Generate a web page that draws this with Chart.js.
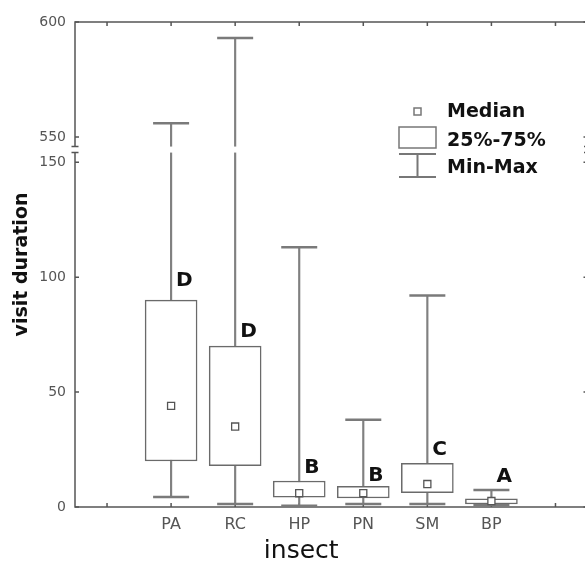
<!DOCTYPE html>
<html lang="en">
<head>
<meta charset="UTF-8">
<title>Visit duration by insect</title>
<script src="https://cdn.jsdelivr.net/npm/chart.js"></script>
<style>
    html, body { margin: 0; padding: 0; background: #fff; overflow: hidden; }
    canvas { display: block; }
</style>
</head>
<body>
<canvas id="boxChart" width="608" height="562"></canvas>
<script>
    // x slots: the two outer ones are empty in the original figure
    const categories = ['', 'PA', 'RC', 'HP', 'PN', 'SM', 'BP', ''];
    const insects = ['PA', 'RC', 'HP', 'PN', 'SM', 'BP'];

    // visit duration summaries
    const minVals = [4.3, 1.3, 0.5, 1.3, 1.3, 0.9];
    const q1Vals = [20, 18, 4.3, 3.9, 6.2, 1.3];
    const medianVals = [44, 35, 6, 6, 10, 2.6];
    const q3Vals = [90, 70, 11.3, 9, 19, 3.5];
    const maxVals = [556, 593, 113, 38, 92, 7.4];

    // significance letters and the value where their baseline sits
    const groupLetters = ['D', 'D', 'B', 'B', 'C', 'A'];
    const letterVals = [96, 74, 15, 11.3, 22.6, 11];

    const yTickLabels = [0, 50, 100, 150, 550, 600];

    // broken axis: everything between 155 and 545 is squeezed into one unit
    const BREAK_LO = 155, BREAK_HI = 545;
    function squash(v) {
        if (v <= BREAK_LO) return v;
        if (v >= BREAK_HI) return v - (BREAK_HI - BREAK_LO) + 1;
        return BREAK_LO + (v - BREAK_LO) / (BREAK_HI - BREAK_LO);
    }

    const FONT = "'DejaVu Sans', sans-serif";
    const AXIS = '#555';
    Chart.defaults.font.family = FONT;

    const pts = vals => vals.map((v, i) => ({ x: insects[i], y: squash(v) }));
    const spans = (lo, hi) => lo.map((v, i) => ({ x: insects[i], y: [squash(v), squash(hi[i])] }));

    // frame, inward ticks, axis break, letters, legend and x title
    const decorations = {
        id: 'decorations',
        beforeDatasetsDraw(chart) {
            const { ctx, chartArea: a, scales: { x, y } } = chart;
            ctx.save();
            ctx.strokeStyle = AXIS;
            ctx.lineWidth = 1.5;
            ctx.strokeRect(a.left, a.top, a.right - a.left, a.bottom - a.top);
            ctx.beginPath();
            categories.forEach((c, i) => {
                const px = x.getPixelForValue(i);
                ctx.moveTo(px, a.top); ctx.lineTo(px, a.top + 4);
                ctx.moveTo(px, a.bottom); ctx.lineTo(px, a.bottom - 4);
            });
            yTickLabels.forEach(v => {
                const py = y.getPixelForValue(squash(v));
                ctx.moveTo(a.left, py); ctx.lineTo(a.left + 4, py);
                ctx.moveTo(a.right, py); ctx.lineTo(a.right - 4, py);
            });
            ctx.stroke();
            ctx.restore();
        },
        afterDatasetsDraw(chart) {
            const { ctx, chartArea: a, scales: { x, y } } = chart;
            ctx.save();

            // gap of the broken axis
            const mid = y.getPixelForValue(BREAK_LO + 0.5);
            ctx.fillStyle = '#fff';
            ctx.fillRect(a.left - 4, mid - 3, a.right - a.left + 8, 6);
            ctx.strokeStyle = AXIS;
            ctx.lineWidth = 1.5;
            ctx.beginPath();
            [a.left, a.right].forEach(ax => {
                ctx.moveTo(ax - 3.5, mid - 3); ctx.lineTo(ax + 3.5, mid - 3);
                ctx.moveTo(ax - 3.5, mid + 3); ctx.lineTo(ax + 3.5, mid + 3);
            });
            ctx.stroke();

            // group letters
            ctx.fillStyle = '#111';
            ctx.font = `bold 20px ${FONT}`;
            ctx.textAlign = 'left';
            ctx.textBaseline = 'alphabetic';
            insects.forEach((name, i) => {
                const px = x.getPixelForValue(categories.indexOf(name));
                ctx.fillText(groupLetters[i], px + 5, y.getPixelForValue(squash(letterVals[i])));
            });

            // legend
            const lx = a.left + 324, ly = a.top;
            ctx.strokeStyle = '#777';
            ctx.lineWidth = 1.5;
            ctx.strokeRect(lx + 15, ly + 86, 7, 7);
            ctx.strokeRect(lx, ly + 105, 37, 21);
            ctx.lineWidth = 2;
            ctx.beginPath();
            ctx.moveTo(lx, ly + 132); ctx.lineTo(lx + 37, ly + 132);
            ctx.moveTo(lx + 18.5, ly + 132); ctx.lineTo(lx + 18.5, ly + 155);
            ctx.moveTo(lx, ly + 155); ctx.lineTo(lx + 37, ly + 155);
            ctx.stroke();
            ctx.font = `bold 19px ${FONT}`;
            ctx.fillText('Median', lx + 48, ly + 95);
            ctx.fillText('25%-75%', lx + 48, ly + 124);
            ctx.fillText('Min-Max', lx + 48, ly + 151);

            // x axis title
            ctx.font = `25px ${FONT}`;
            ctx.textAlign = 'center';
            const cx = (x.getPixelForValue(0) + x.getPixelForValue(6)) / 2 + 2;
            ctx.fillText('insect', cx, 558);
            ctx.restore();
        }
    };

    new Chart(document.getElementById('boxChart'), {
        type: 'bar',
        data: {
            labels: categories,
            datasets: [
                {
                    type: 'line',
                    label: 'Median',
                    data: pts(medianVals),
                    showLine: false,
                    pointStyle: 'rect',
                    pointRadius: 5,
                    pointHoverRadius: 5,
                    pointBackgroundColor: '#fff',
                    pointBorderColor: '#555',
                    pointBorderWidth: 1.3,
                    order: 0
                },
                {
                    label: '25%-75%',
                    data: spans(q1Vals, q3Vals),
                    backgroundColor: '#fff',
                    borderColor: '#6a6a6a',
                    borderWidth: 1.5,
                    borderSkipped: false,
                    barThickness: 52,
                    grouped: false,
                    order: 1
                },
                {
                    type: 'line',
                    label: 'Max',
                    data: pts(maxVals),
                    showLine: false,
                    pointStyle: 'line',
                    pointRadius: 18,
                    pointHoverRadius: 18,
                    pointBorderColor: '#7a7a7a',
                    pointBorderWidth: 2.5,
                    order: 2
                },
                {
                    type: 'line',
                    label: 'Min',
                    data: pts(minVals),
                    showLine: false,
                    pointStyle: 'line',
                    pointRadius: 18,
                    pointHoverRadius: 18,
                    pointBorderColor: '#7a7a7a',
                    pointBorderWidth: 2.5,
                    order: 2
                },
                {
                    label: 'Min-Max',
                    data: spans(minVals, maxVals),
                    backgroundColor: '#808080',
                    borderWidth: 0,
                    barThickness: 1.5,
                    grouped: false,
                    order: 3
                }
            ]
        },
        options: {
            responsive: false,
            animation: false,
            layout: { padding: { top: 22, right: 5, left: 0, bottom: 0 } },
            plugins: {
                legend: { display: false },
                tooltip: { enabled: false }
            },
            scales: {
                x: {
                    offset: true,
                    grid: { display: false, drawTicks: false },
                    border: { display: false },
                    ticks: { color: '#555', font: { size: 16 }, padding: 8, autoSkip: false, maxRotation: 0 },
                    afterFit(s) { s.height = 55; }
                },
                y: {
                    min: 0,
                    max: squash(600),
                    grid: { display: false, drawTicks: false },
                    border: { display: false },
                    afterBuildTicks(s) { s.ticks = yTickLabels.map(v => ({ value: squash(v) })); },
                    ticks: {
                        callback: (v, i) => yTickLabels[i],
                        color: '#555',
                        font: { size: 14 },
                        padding: 9,
                        autoSkip: false
                    },
                    title: {
                        display: true,
                        text: 'visit duration',
                        color: '#111',
                        font: { size: 19, weight: 'bold' },
                        padding: { top: 11, bottom: 0 }
                    },
                    afterFit(s) { s.width = 75; }
                }
            }
        },
        plugins: [decorations]
    });
</script>
</body>
</html>
